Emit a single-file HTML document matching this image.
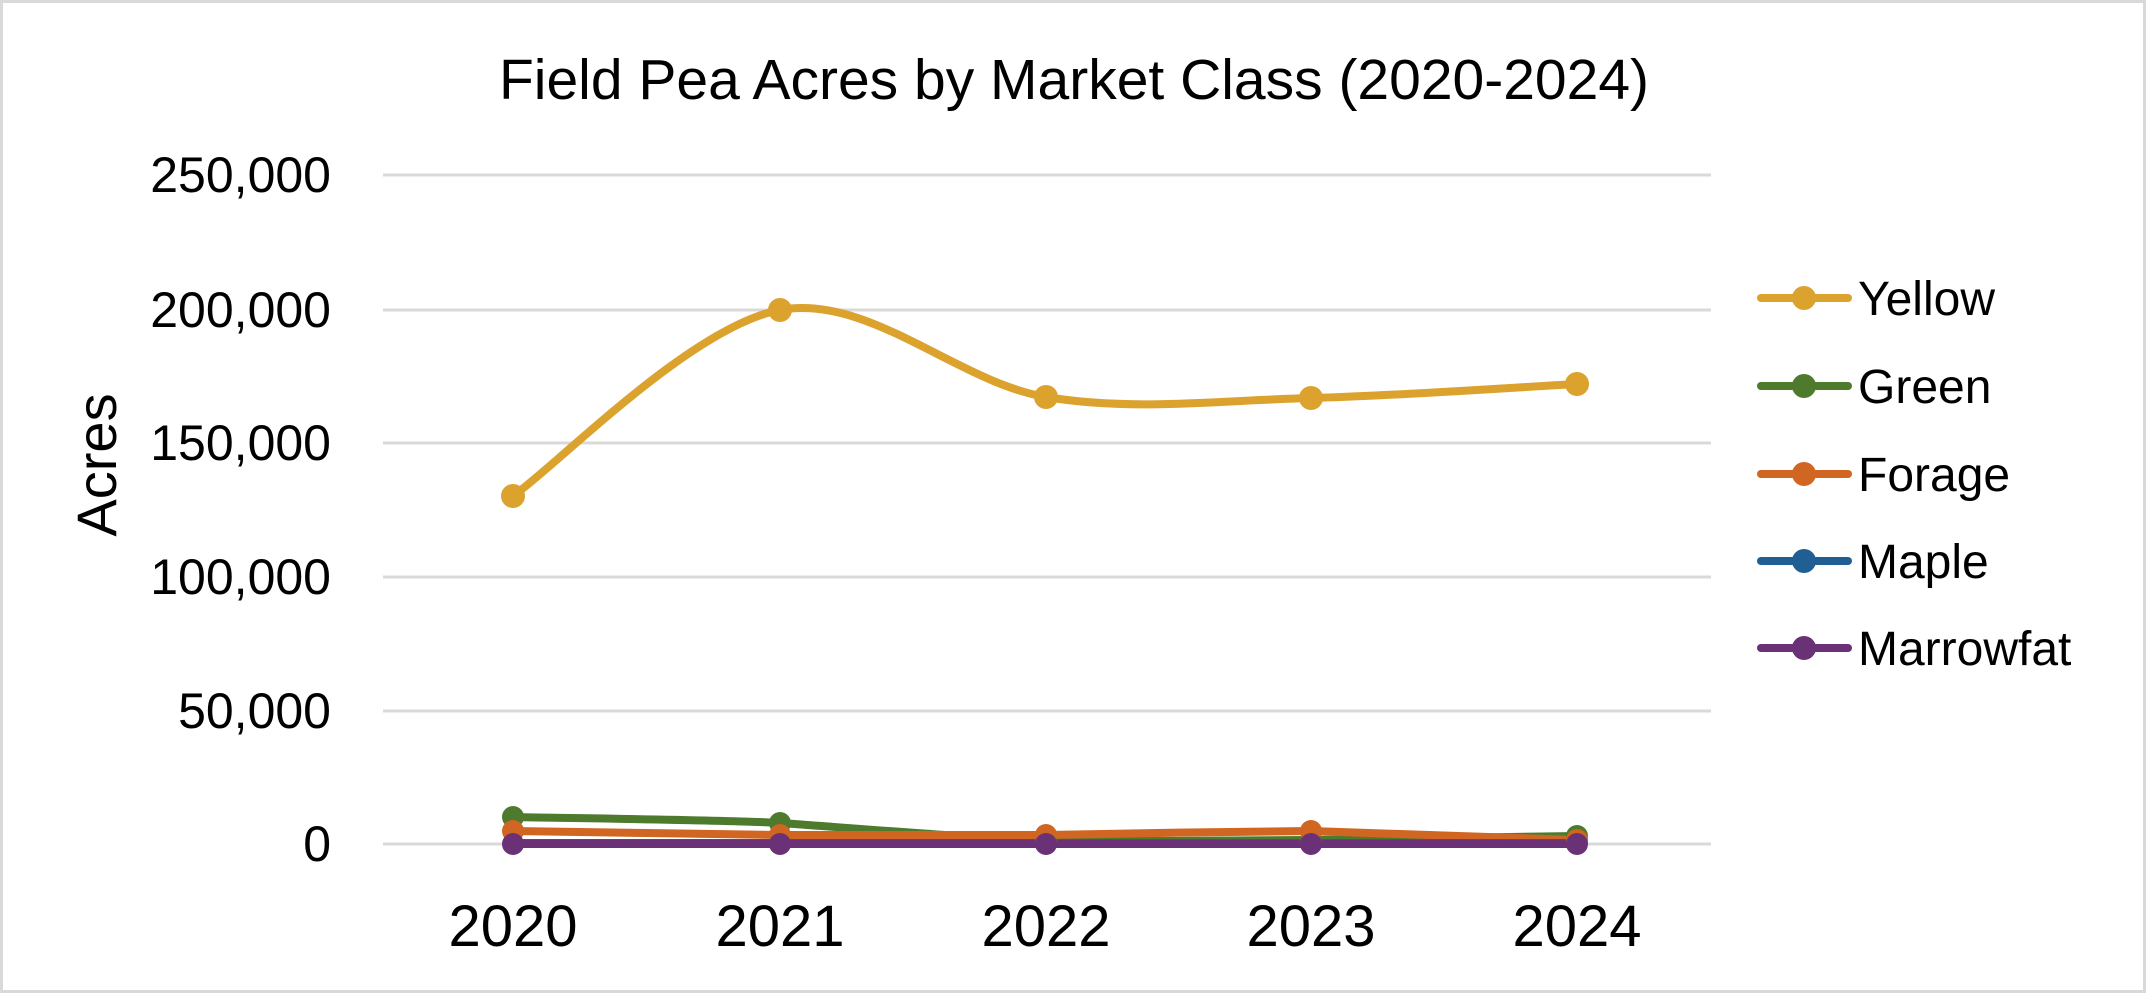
<!DOCTYPE html>
<html><head><meta charset="utf-8"><style>
html,body{margin:0;padding:0;background:#fff;}
svg{display:block;}
text{font-family:"Liberation Sans",sans-serif;fill:#000;}
</style></head><body>
<svg width="2146" height="993" viewBox="0 0 2146 993" xmlns="http://www.w3.org/2000/svg">
<rect x="1.5" y="1.5" width="2143" height="990" fill="#fff" stroke="#d9d9d9" stroke-width="3"/>
<text x="1074" y="99" font-size="57" text-anchor="middle">Field Pea Acres by Market Class (2020-2024)</text>
<g stroke="#d9d9d9" stroke-width="3">
<line x1="383" x2="1711" y1="175" y2="175"/>
<line x1="383" x2="1711" y1="310" y2="310"/>
<line x1="383" x2="1711" y1="443" y2="443"/>
<line x1="383" x2="1711" y1="577" y2="577"/>
<line x1="383" x2="1711" y1="711" y2="711"/>
<line x1="383" x2="1711" y1="844" y2="844"/>
</g>
<g font-size="50" text-anchor="end">
<text x="331" y="192">250,000</text>
<text x="331" y="327">200,000</text>
<text x="331" y="460">150,000</text>
<text x="331" y="594">100,000</text>
<text x="331" y="728">50,000</text>
<text x="331" y="861">0</text>
</g>
<g font-size="58" text-anchor="middle">
<text x="513" y="946">2020</text>
<text x="780" y="946">2021</text>
<text x="1046" y="946">2022</text>
<text x="1311" y="946">2023</text>
<text x="1577" y="946">2024</text>
</g>
<text transform="translate(116,465) rotate(-90)" font-size="56" text-anchor="middle">Acres</text>
<g fill="none" stroke-width="8" stroke-linecap="round" stroke-linejoin="round">
<path stroke="#4e7a2e" d="M513,817 C557,818 735,820 780,823 C824,826 1000,840 1046,841 C1090,841 1266,841 1311,840 C1355,839 1533,837 1577,836"/>
<path stroke="#d06622" d="M513,831 C557,832 735,834 780,835 C824,835 1000,835 1046,835 C1090,834 1266,831 1311,831 C1355,832 1533,839 1577,840"/>
<path stroke="#1f5f94" d="M513,843 L1577,843"/>
<path stroke="#6b3177" d="M513,844 L1577,844"/>
<path stroke="#dba22e" d="M513,496 C557.5,465 691,326.5 780,310 C868.8,293.5 957.5,382.3 1046,397 C1134.5,411.7 1222.5,400.2 1311,398 C1399.5,395.8 1532.7,386.3 1577,384"/>
</g>
<g fill="#4e7a2e"><circle cx="513" cy="817" r="11"/><circle cx="780" cy="823" r="11"/><circle cx="1046" cy="841" r="11"/><circle cx="1311" cy="840" r="11"/><circle cx="1577" cy="836" r="11"/></g>
<g fill="#d06622"><circle cx="513" cy="831" r="11"/><circle cx="780" cy="835" r="11"/><circle cx="1046" cy="835" r="11"/><circle cx="1311" cy="831" r="11"/><circle cx="1577" cy="840" r="11"/></g>
<g fill="#6b3177"><circle cx="513" cy="844" r="11"/><circle cx="780" cy="844" r="11"/><circle cx="1046" cy="844" r="11"/><circle cx="1311" cy="844" r="11"/><circle cx="1577" cy="844" r="11"/></g>
<g fill="#dba22e"><circle cx="513" cy="496" r="12"/><circle cx="780" cy="310" r="12"/><circle cx="1046" cy="397" r="12"/><circle cx="1311" cy="398" r="12"/><circle cx="1577" cy="384" r="12"/></g>
<g stroke-width="8" stroke-linecap="round">
<line x1="1761" x2="1848" y1="298" y2="298" stroke="#dba22e"/><circle cx="1804" cy="298" r="12" fill="#dba22e"/>
<line x1="1761" x2="1848" y1="386" y2="386" stroke="#4e7a2e"/><circle cx="1804" cy="386" r="12" fill="#4e7a2e"/>
<line x1="1761" x2="1848" y1="474" y2="474" stroke="#d06622"/><circle cx="1804" cy="474" r="12" fill="#d06622"/>
<line x1="1761" x2="1848" y1="561" y2="561" stroke="#1f5f94"/><circle cx="1804" cy="561" r="12" fill="#1f5f94"/>
<line x1="1761" x2="1848" y1="648" y2="648" stroke="#6b3177"/><circle cx="1804" cy="648" r="12" fill="#6b3177"/>
</g>
<g font-size="48">
<text x="1858" y="315">Yellow</text>
<text x="1858" y="403">Green</text>
<text x="1858" y="491">Forage</text>
<text x="1858" y="578">Maple</text>
<text x="1858" y="665">Marrowfat</text>
</g>
</svg>
</body></html>
